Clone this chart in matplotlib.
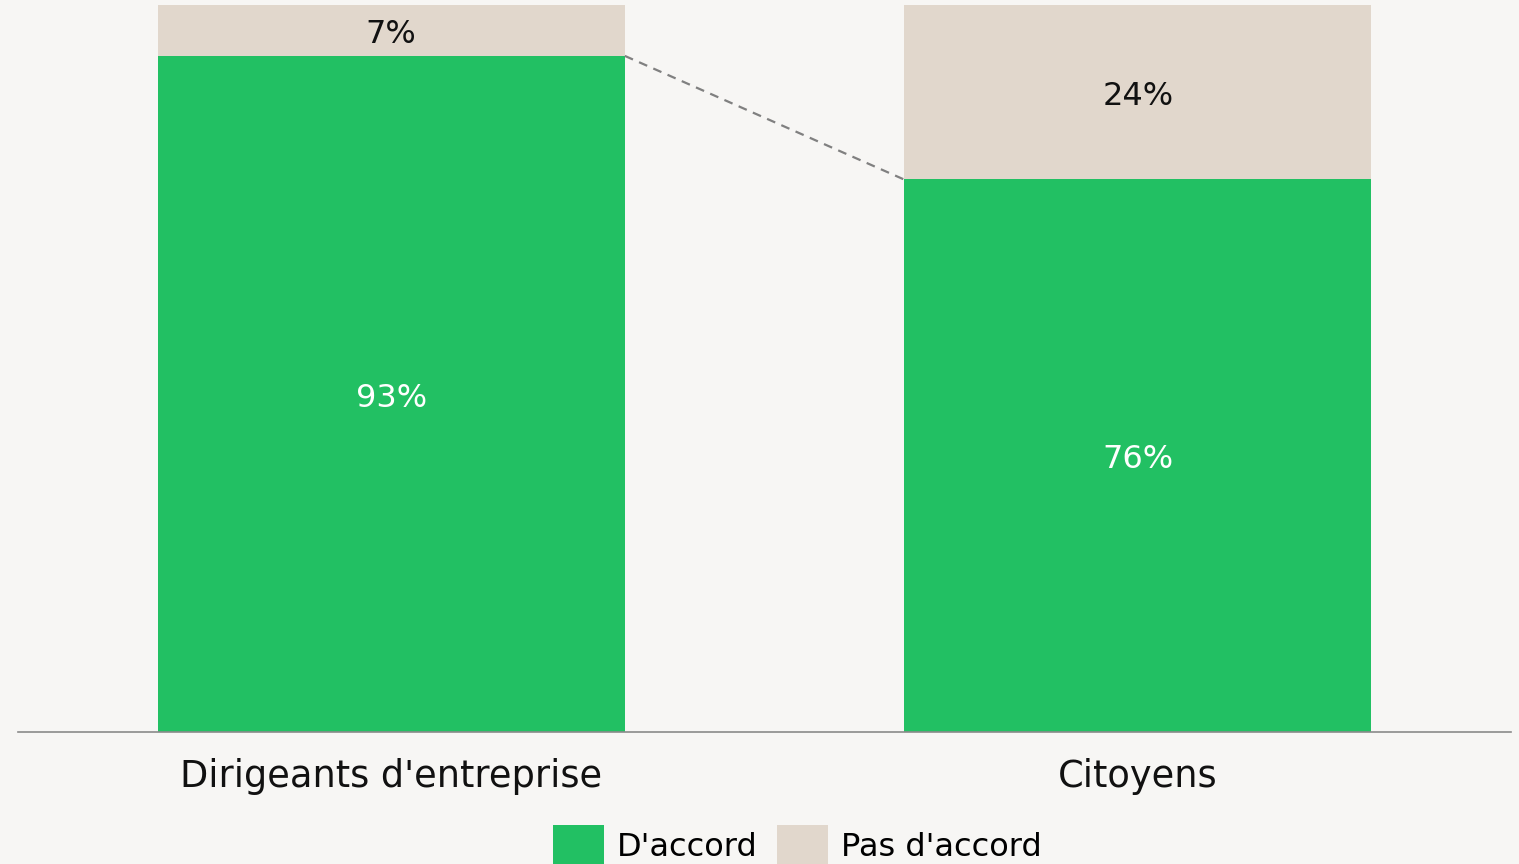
import matplotlib.pyplot as plt

# data
groups = ["Dirigeants d'entreprise", "Citoyens"]
agree = [93, 76]
disagree = [7, 24]
series_names = ["D'accord", "Pas d'accord"]

green = "#22c063"
beige = "#e1d7cc"
bg = "#f7f6f4"

plt.rcParams['font.family'] = ['DejaVu Sans']

fig = plt.figure(figsize=(15.19, 8.64), dpi=100, facecolor=bg)
ax = fig.add_axes([0.0118, 0.1528, 0.9829, 0.8414])
ax.set_facecolor(bg)

x = list(range(len(groups)))
width = 0.626
b1 = ax.bar(x, agree, width, color=green, label=series_names[0])
b2 = ax.bar(x, disagree, width, bottom=agree, color=beige, label=series_names[1])

# value labels, nudged slightly down like in the original
for i in x:
    ax.annotate(f"{agree[i]}%", (i, agree[i] / 2), xytext=(0, -3),
                textcoords="offset points", ha="center", va="center",
                color="white", fontsize=23)
    ax.annotate(f"{disagree[i]}%", (i, agree[i] + disagree[i] / 2),
                xytext=(0, -3), textcoords="offset points", ha="center",
                va="center", color="#111111", fontsize=23)

# dashed connector between the tops of the green bars
ax.plot([x[0] + width / 2, x[1] - width / 2], [agree[0], agree[1]],
        ls=(0, (4, 3)), color="#808080", lw=1.6)

ax.set_xlim(-0.5, 1.5)
ax.set_ylim(0, 100)
ax.set_xticks(x)
ax.set_xticklabels(groups, fontsize=26.5, color="#111111")
ax.tick_params(axis="x", length=0, pad=19)
ax.set_yticks([])
for s in ["top", "left", "right"]:
    ax.spines[s].set_visible(False)
ax.spines["bottom"].set_color("#8a8a8a")
ax.spines["bottom"].set_linewidth(1.2)

fig.legend(handles=[b1, b2], labels=series_names, loc="upper center",
           bbox_to_anchor=(0.525, 0.060), ncol=2, frameon=False,
           fontsize=23, handlelength=1.6, handleheight=1.6,
           handletextpad=0.4, columnspacing=0.6, borderaxespad=0)

fig.savefig("out.png", dpi=100, facecolor=bg)
